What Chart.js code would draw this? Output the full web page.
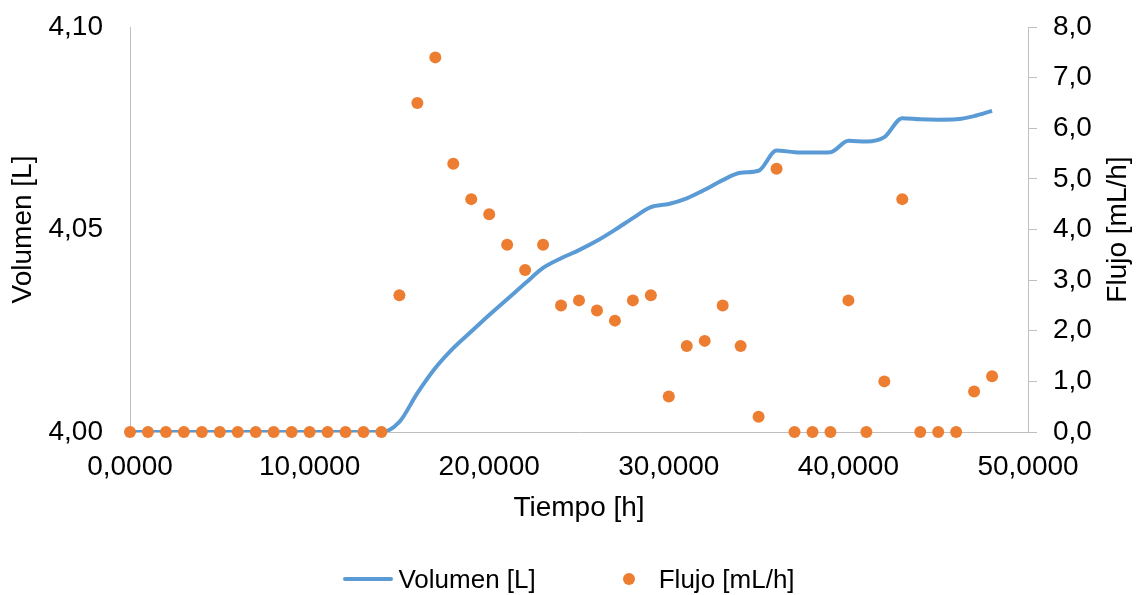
<!DOCTYPE html>
<html>
<head>
<meta charset="utf-8">
<script src="https://cdn.jsdelivr.net/npm/chart.js@4.4.1/dist/chart.umd.min.js"></script>
<style>
  html, body { margin: 0; padding: 0; background: #fff; }
  #wrap { position: relative; width: 1138px; height: 595px; }
  #legend {
    position: absolute; left: 0; top: 560px; width: 1138px; height: 38px;
    display: flex; justify-content: center; align-items: center;
    font: 26px "Liberation Sans", Arial, sans-serif; color: #000;
  }
  .swatch-line { width: 50px; height: 4px; background: #5b9bd5; border-radius: 2px; margin-right: 5px; }
  .swatch-dot { width: 12px; height: 12px; background: #ed7d31; border-radius: 50%; margin-left: 87px; margin-right: 24px; }
</style>
</head>
<body>
<div id="wrap">
  <canvas id="chart"></canvas>
  <div id="legend">
    <span class="swatch-line"></span><span>Volumen [L]</span>
    <span class="swatch-dot"></span><span>Flujo [mL/h]</span>
  </div>
</div>
<script>
const FONT = '"Liberation Sans", Arial, sans-serif';

// Tiempo [h]
const tiempo = [0, 1, 2, 3, 4, 5, 6, 7, 8, 9, 10, 11, 12, 13, 14, 15, 16, 17, 18, 19, 20, 21, 22, 23, 24,
    25, 26, 27, 28, 29, 30, 31, 32, 33, 34, 35, 36, 37, 38, 39, 40, 41, 42, 43, 44, 45, 46, 47, 48];

// Volumen [L] (eje izquierdo)
const volumen = [4.0, 4.0, 4.0, 4.0, 4.0, 4.0, 4.0, 4.0, 4.0, 4.0, 4.0, 4.0, 4.0, 4.0, 4.0,
    4.0025, 4.0096, 4.0158, 4.0207, 4.0248, 4.0289, 4.0328, 4.0367, 4.0405, 4.0429,
    4.0449, 4.0472, 4.0499, 4.0528, 4.0555, 4.0563, 4.0577, 4.0598, 4.0622, 4.0640,
    4.0645, 4.0695, 4.0691, 4.0690, 4.0691, 4.0719, 4.0717, 4.0728, 4.0775, 4.0772,
    4.0771, 4.0772, 4.0780, 4.0793];

// Flujo [mL/h] (eje derecho)
const flujo = [0, 0, 0, 0, 0, 0, 0, 0, 0, 0, 0, 0, 0, 0, 0,
    2.7, 6.5, 7.4, 5.3, 4.6, 4.3, 3.7, 3.2, 3.7, 2.5,
    2.6, 2.4, 2.2, 2.6, 2.7, 0.7, 1.7, 1.8, 2.5, 1.7,
    0.3, 5.2, 0, 0, 0, 2.6, 0, 1.0, 4.6, 0,
    0, 0, 0.8, 1.1];

const xTicks = { min: 0, max: 50, step: 10 };
const yLeftTicks = { min: 4.0, max: 4.1, step: 0.05 };
const yRightTicks = { min: 0, max: 8, step: 1 };

const comma = (v, d) => v.toFixed(d).replace('.', ',');

// ancho fijo para los ejes verticales, sin relleno extra arriba/abajo
const fixWidth = (w) => (s) => {
    s.width = w;
    s.paddingTop = 0;
    s.paddingBottom = 0;
};

// titulo del eje derecho, leido de abajo hacia arriba
const rightTitle = {
    id: 'rightTitle',
    afterDraw(chart) {
        const s = chart.scales.y2;
        const ctx = chart.ctx;
        ctx.save();
        ctx.translate(s.right - 20, (s.top + s.bottom) / 2);
        ctx.rotate(-Math.PI / 2);
        ctx.font = '28px ' + FONT;
        ctx.fillStyle = '#000';
        ctx.textAlign = 'center';
        ctx.textBaseline = 'middle';
        ctx.fillText('Flujo [mL/h]', 0, 0);
        ctx.restore();
    }
};

new Chart(document.getElementById('chart'), {
    type: 'scatter',
    data: {
        datasets: [{
            label: 'Volumen [L]',
            data: tiempo.map((t, i) => ({ x: t, y: volumen[i] })),
            yAxisID: 'y',
            showLine: true,
            borderColor: '#5b9bd5',
            backgroundColor: '#5b9bd5',
            borderWidth: 4,
            pointRadius: 0,
            cubicInterpolationMode: 'monotone',
            order: 1
        }, {
            label: 'Flujo [mL/h]',
            data: tiempo.map((t, i) => ({ x: t, y: flujo[i] })),
            yAxisID: 'y2',
            backgroundColor: '#ed7d31',
            borderColor: '#ed7d31',
            borderWidth: 0,
            pointRadius: 6,
            clip: false,
            order: 0
        }]
    },
    options: {
        responsive: true,
        maintainAspectRatio: false,
        animation: false,
        layout: { padding: { top: 27, bottom: 53, left: 0, right: 0 } },
        plugins: {
            legend: { display: false },
            tooltip: { enabled: false }
        },
        scales: {
            x: {
                type: 'linear',
                min: xTicks.min,
                max: xTicks.max,
                afterFit: (s) => { s.height = 110; },
                grid: { display: false, drawTicks: false },
                border: { display: true, color: '#bfbfbf', width: 1 },
                ticks: {
                    stepSize: xTicks.step,
                    padding: 18,
                    color: '#000',
                    font: { family: FONT, size: 28 },
                    callback: (v) => comma(v, 4)
                },
                title: {
                    display: true,
                    text: 'Tiempo [h]',
                    color: '#000',
                    font: { family: FONT, size: 28 },
                    padding: { top: 0, bottom: 17 }
                }
            },
            y: {
                position: 'left',
                min: yLeftTicks.min,
                max: yLeftTicks.max,
                afterFit: fixWidth(130),
                grid: { display: false, drawTicks: false },
                border: { display: true, color: '#bfbfbf', width: 1 },
                ticks: {
                    stepSize: yLeftTicks.step,
                    padding: 27,
                    color: '#000',
                    font: { family: FONT, size: 28 },
                    callback: (v) => comma(v, 2)
                },
                title: {
                    display: true,
                    text: 'Volumen [L]',
                    color: '#000',
                    font: { family: FONT, size: 28 },
                    padding: { top: 6, bottom: 0 }
                }
            },
            y2: {
                position: 'right',
                min: yRightTicks.min,
                max: yRightTicks.max,
                afterFit: fixWidth(110),
                grid: { display: true, drawOnChartArea: false, drawTicks: true, tickLength: 9, color: '#bfbfbf' },
                border: { display: true, color: '#bfbfbf', width: 1 },
                ticks: {
                    stepSize: yRightTicks.step,
                    padding: 16,
                    color: '#000',
                    font: { family: FONT, size: 28 },
                    callback: (v) => comma(v, 1)
                }
            }
        }
    },
    plugins: [rightTitle]
});
</script>
</body>
</html>
